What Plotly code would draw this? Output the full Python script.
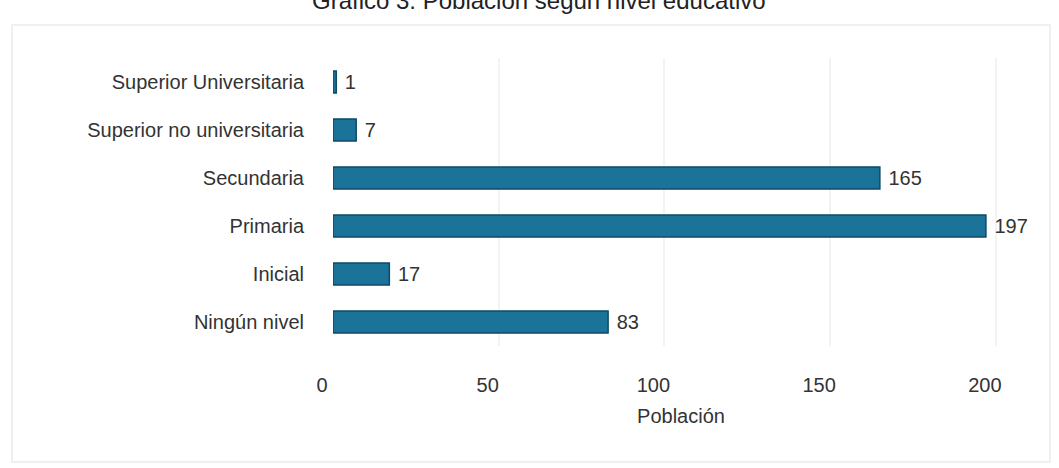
import plotly.graph_objects as go

# Education levels (top to bottom as drawn) and population counts
niveles = [
    "Superior Universitaria",
    "Superior no universitaria",
    "Secundaria",
    "Primaria",
    "Inicial",
    "Ningún nivel",
]
poblacion = [1, 7, 165, 197, 17, 83]
x_ticks = [0, 50, 100, 150, 200]

FONT = "Liberation Sans, Arial, sans-serif"
BAR_FILL = "#1b7399"
BAR_EDGE = "#0e4a68"
TEXT = "#333333"
FS = 20

W, H = 1059, 468
ML, MR, MT, MB = 333, 30, 58, 122
plot_w = W - ML - MR
plot_h = H - MT - MB


def px_to_paper_x(px):
    return (px - ML) / plot_w


def px_to_paper_y(py):
    return (H - MB - py) / plot_h


fig = go.Figure(
    go.Bar(
        y=niveles,
        x=poblacion,
        orientation="h",
        marker=dict(color=BAR_FILL, line=dict(color=BAR_EDGE, width=1.5)),
        text=["\u00a0" + str(v) for v in poblacion],
        textposition="outside",
        textfont=dict(family=FONT, size=FS, color=TEXT),
        cliponaxis=False,
        hoverinfo="skip",
    )
)

fig.update_layout(
    width=W,
    height=H,
    margin=dict(l=ML, r=MR, t=MT, b=MB, pad=0),
    paper_bgcolor="white",
    plot_bgcolor="white",
    bargap=0.54,
    showlegend=False,
    font=dict(family=FONT, size=FS, color=TEXT),
    xaxis=dict(
        range=[0, 210],
        tickvals=x_ticks,
        ticktext=[str(t) for t in x_ticks],
        showgrid=True,
        gridcolor="#f3f3f3",
        gridwidth=2,
        zeroline=False,
        showline=False,
        ticks="",
        ticklabelstandoff=25,
        ticklabelshift=-11,
        tickfont=dict(family=FONT, size=FS, color=TEXT),
        title=dict(text="Población", standoff=13,
                   font=dict(family=FONT, size=FS, color=TEXT)),
        fixedrange=True,
    ),
    yaxis=dict(
        categoryorder="array",
        categoryarray=niveles[::-1],
        showgrid=False,
        zeroline=False,
        showline=False,
        ticks="",
        ticklabelstandoff=28,
        tickfont=dict(family=FONT, size=FS, color=TEXT),
        fixedrange=True,
    ),
)

# Chart title, sitting at the very top edge of the page
fig.add_annotation(
    text="Gráfico 3: Población según nivel educativo",
    xref="paper", yref="paper",
    x=px_to_paper_x(539), y=px_to_paper_y(1),
    xanchor="center", yanchor="middle",
    showarrow=False,
    font=dict(family=FONT, size=24, color="#222222"),
)

# Light frame around the chart area
fig.add_shape(
    type="rect",
    xref="paper", yref="paper",
    x0=px_to_paper_x(12), x1=px_to_paper_x(1050),
    y0=px_to_paper_y(462), y1=px_to_paper_y(25),
    line=dict(color="#ebebeb", width=1.5),
    fillcolor="rgba(0,0,0,0)",
    layer="below",
)

fig.write_html("out.html")
